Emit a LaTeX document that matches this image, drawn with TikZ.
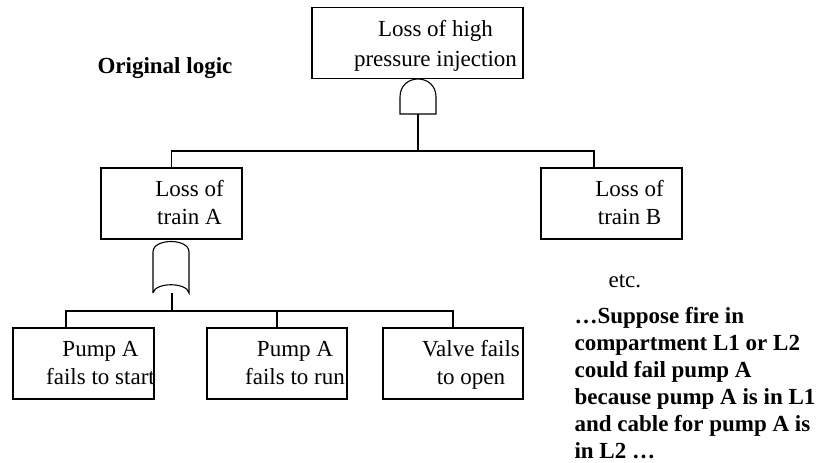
\documentclass[tikz,border=0pt]{standalone}
\usepackage{fontspec}
\setmainfont{Liberation Serif}
\usetikzlibrary{positioning}

\begin{document}
\begin{tikzpicture}[x=1pt, y=-1pt, line width=1.1pt,
    evbox/.style={draw, minimum height=71pt, inner sep=0pt},
    evtext/.style={font=\fontsize{23}{28}\selectfont, align=center, inner sep=0pt, anchor=base},
    note/.style={font=\fontsize{23}{27}\selectfont, align=left, inner sep=0pt, anchor=base west}]
  \useasboundingbox (0,0) rectangle (819,463);

  % events
  \node[evbox, minimum width=211pt] (hpi)    at (417.5,43)    {};
  \node[evbox, minimum width=141pt] (trainA) at (171.5,203.5) {};
  \node[evbox, minimum width=141pt] (trainB) at (611.5,203.5) {};
  \node[evbox, minimum width=141pt] (pumpStart) at (83.5,363.5) {};
  \node[evbox, minimum width=140pt] (pumpRun)   at (277,363.5)  {};
  \node[evbox, minimum width=140pt] (valve)     at (453,363.5)  {};

  \node[evtext, xshift=18pt, yshift=-60pt, font=\fontsize{23}{30}\selectfont] (hpiT) at (hpi.north) {Loss of high\\pressure injection};
  \node[evtext, xshift=18pt, yshift=-57pt] (trainAT) at (trainA.north)    {Loss of\\train A};
  \node[evtext, xshift=18pt, yshift=-57pt] (trainBT) at (trainB.north)    {Loss of\\train B};
  \node[evtext, xshift=17pt, yshift=-57pt] (startT)  at (pumpStart.north) {Pump A\\fails to start};
  \node[evtext, xshift=18pt, yshift=-57pt] (runT)    at (pumpRun.north)   {Pump A\\fails to run};
  \node[evtext, xshift=18pt, yshift=-57pt] (valveT)  at (valve.north)     {Valve fails\\to open};

  % gates
  \coordinate (andOut) at (418,114);
  \coordinate (orOut)  at (172,293);
  \coordinate (bus1)   at (418,151);
  \coordinate (bus2)   at (277,311);
  \draw (400,114) -- (400,97) .. controls (400,73) and (436,73) .. (436,97) -- (436,114) -- cycle;
  \draw (153,293) -- (153,252) .. controls (153,238) and (189,238) .. (189,252)
        -- (189,293) .. controls (187,282) and (155,282) .. (153,293);

  % connectors
  \draw (andOut) -- (bus1);
  \draw (trainA.north) |- (bus1) -| ([xshift=-17.5pt]trainB.north);
  \draw (orOut) -- (orOut |- bus2);
  \draw ([xshift=-17.5pt]pumpStart.north) |- (bus2) -| (valve.north);
  \draw (pumpRun.north) -- (bus2);

  % notes
  \node[note, font=\fontsize{23}{28}\selectfont\bfseries] (title) at (97,73) {Original logic};
  \node[note] (etc) at (608,287) {etc.};
  \node[note, font=\fontsize{23}{27}\selectfont\bfseries] (fire) at (574,458)
    {\dots Suppose fire in\\compartment L1 or L2\\could fail pump A\\because pump A is in L1\\and cable for pump A is\\in L2 \dots};
\end{tikzpicture}
\end{document}
